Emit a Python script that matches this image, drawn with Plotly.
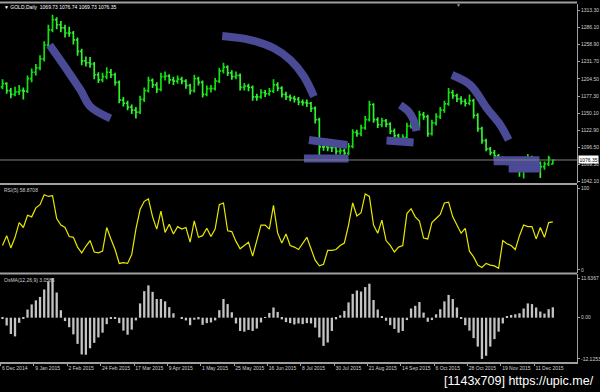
import plotly.graph_objects as go

# ---------------- data (2-day bars) ----------------
date_labels = ["6 Dec 2014", "9 Jan 2015", "2 Feb 2015", "24 Feb 2015", "17 Mar 2015",
               "9 Apr 2015", "1 May 2015", "25 May 2015", "16 Jun 2015", "8 Jul 2015",
               "30 Jul 2015", "21 Aug 2015", "14 Sep 2015", "6 Oct 2015", "28 Oct 2015",
               "19 Nov 2015", "11 Dec 2015"]

price_open = [1192, 1197, 1186, 1180, 1184, 1186, 1185, 1205, 1215, 1222,
              1236, 1258, 1282, 1298, 1290, 1285, 1277, 1277, 1266, 1248,
              1233, 1230, 1228, 1211, 1203, 1208, 1215, 1211, 1199, 1171,
              1166, 1160, 1155, 1152, 1172, 1186, 1202, 1195, 1188, 1208,
              1209, 1203, 1201, 1204, 1201, 1194, 1186, 1205, 1199, 1180,
              1189, 1189, 1201, 1217, 1223, 1214, 1208, 1210, 1191, 1193,
              1191, 1176, 1176, 1183, 1181, 1185, 1195, 1190, 1180, 1176,
              1174, 1172, 1168, 1167, 1166, 1158, 1140, 1097, 1097, 1096,
              1096, 1090, 1091, 1087, 1098, 1120, 1118, 1127, 1140, 1164,
              1140, 1132, 1138, 1133, 1122, 1115, 1109, 1112, 1130, 1135,
              1129, 1148, 1145, 1118, 1135, 1145, 1155, 1165, 1183, 1178,
              1173, 1169, 1166, 1170, 1147, 1126, 1107, 1094, 1088, 1083,
              1076, 1075, 1074, 1073, 1068, 1062, 1065, 1078, 1074, 1071,
              1066, 1070, 1069.73]
price_high = [1204, 1199, 1190, 1192, 1195, 1191, 1210, 1221, 1228, 1242,
              1264, 1290, 1306, 1302, 1296, 1290, 1287, 1280, 1270, 1252,
              1240, 1239, 1231, 1215, 1214, 1223, 1220, 1214, 1202, 1176,
              1170, 1164, 1160, 1178, 1191, 1208, 1205, 1199, 1214, 1216,
              1212, 1208, 1210, 1208, 1204, 1197, 1211, 1208, 1202, 1194,
              1195, 1206, 1222, 1230, 1226, 1218, 1216, 1213, 1198, 1197,
              1194, 1181, 1188, 1187, 1190, 1204, 1199, 1193, 1184, 1180,
              1178, 1176, 1172, 1172, 1168, 1161, 1143, 1104, 1102, 1101,
              1098, 1097, 1094, 1103, 1125, 1124, 1132, 1146, 1170, 1166,
              1144, 1143, 1141, 1136, 1126, 1118, 1117, 1135, 1140, 1138,
              1154, 1152, 1148, 1140, 1150, 1160, 1170, 1190, 1187, 1181,
              1177, 1173, 1180, 1173, 1150, 1129, 1110, 1097, 1092, 1086,
              1082, 1080, 1079, 1076, 1071, 1070, 1086, 1083, 1078, 1074,
              1074, 1083, 1076.74]
price_low = [1188, 1181, 1174, 1177, 1179, 1172, 1182, 1199, 1210, 1218,
             1232, 1254, 1278, 1283, 1278, 1270, 1271, 1259, 1241, 1226,
             1224, 1222, 1204, 1198, 1199, 1204, 1206, 1194, 1166, 1161,
             1155, 1149, 1142, 1149, 1168, 1183, 1190, 1182, 1185, 1202,
             1197, 1195, 1197, 1196, 1189, 1180, 1183, 1194, 1175, 1177,
             1183, 1186, 1198, 1213, 1209, 1203, 1204, 1186, 1186, 1185,
             1170, 1170, 1173, 1176, 1178, 1182, 1185, 1175, 1171, 1169,
             1167, 1163, 1162, 1160, 1152, 1134, 1077, 1091, 1090, 1089,
             1085, 1085, 1082, 1084, 1095, 1113, 1114, 1124, 1137, 1135,
             1127, 1128, 1128, 1117, 1110, 1104, 1105, 1109, 1126, 1124,
             1126, 1140, 1113, 1115, 1131, 1141, 1151, 1162, 1173, 1168,
             1164, 1161, 1163, 1142, 1121, 1102, 1090, 1084, 1078, 1071,
             1070, 1068, 1067, 1062, 1050, 1047, 1062, 1069, 1064, 1048,
             1061, 1067, 1069.73]
price_close = [1197, 1186, 1180, 1184, 1186, 1185, 1205, 1215, 1222, 1236,
               1258, 1282, 1298, 1290, 1285, 1277, 1277, 1266, 1248, 1233,
               1230, 1228, 1211, 1203, 1208, 1215, 1211, 1199, 1171, 1166,
               1160, 1155, 1152, 1172, 1186, 1202, 1195, 1188, 1208, 1209,
               1203, 1201, 1204, 1201, 1194, 1186, 1205, 1199, 1180, 1189,
               1189, 1201, 1217, 1223, 1214, 1208, 1210, 1191, 1193, 1191,
               1176, 1176, 1183, 1181, 1185, 1195, 1190, 1180, 1176, 1174,
               1172, 1168, 1167, 1166, 1158, 1140, 1097, 1097, 1096, 1096,
               1090, 1091, 1087, 1098, 1120, 1118, 1127, 1140, 1164, 1140,
               1132, 1138, 1133, 1122, 1115, 1109, 1112, 1130, 1135, 1129,
               1148, 1145, 1118, 1135, 1145, 1155, 1165, 1183, 1178, 1173,
               1169, 1166, 1170, 1147, 1126, 1107, 1094, 1088, 1083, 1076,
               1075, 1074, 1073, 1068, 1062, 1065, 1078, 1074, 1071, 1066,
               1070, 1079, 1076.35]

rsi_values = [30, 42, 27, 40, 58, 52, 67, 65, 76, 80,
              92, 90, 91, 63, 55, 52, 41, 40, 28, 21,
              29, 36, 22, 21, 23, 52, 38, 25, 8, 9,
              8, 19, 50, 74, 84, 87, 65, 50, 72, 46,
              56, 44, 53, 50, 52, 34, 60, 40, 42, 51,
              41, 50, 80, 82, 48, 47, 35, 26, 30, 34,
              17, 36, 55, 55, 50, 79, 45, 33, 44, 30,
              28, 25, 33, 40, 26, 12, 5, 7, 24, 24,
              25, 30, 33, 55, 82, 66, 70, 93, 90, 55,
              45, 61, 36, 30, 22, 28, 30, 69, 75, 65,
              60, 39, 38, 58, 63, 68, 82, 83, 65, 55,
              45, 51, 23, 16, 6, 3, 8, 6, 5, 2,
              36, 32, 30, 25, 42, 55, 53, 53, 38, 52,
              40, 58, 58.8708]

osma_values = [-0.1, -2.3, -4.8, -5.5, -1.5, -0.3, 2.4, 3.9, 5.1, 6.1,
               8.3, 10.6, 11.6367, 7.4, 2.2, -1.0, -2.8, -4.9, -7.7, -10.8,
               -10.9, -9.0, -7.4, -5.8, -4.4, -1.9, -0.1, -0.3, -1.6, -3.8,
               -5.0, -3.5, -0.8, 4.2, 7.8, 9.5, 7.6, 5.5, 5.5, 4.8,
               3.1, 1.3, 0.0, -0.4, -0.8, -2.2, -0.6, -0.5, -2.1, -1.6,
               -1.4, -0.8, 2.2, 5.5, 4.0, 1.6, -1.7, -3.9, -4.1, -3.6,
               -3.9, -3.2, -1.4, 0.1, 1.4, 3.0, 1.7, -0.5, -1.3, -1.6,
               -2.0, -1.7, -1.9, -1.6, -1.7, -2.9, -5.8, -8.3, -7.3, -3.9,
               -0.5, 0.7, 2.0, 4.5, 7.0, 8.0, 7.7, 9.0, 10.0, 5.2,
               2.4, 0.3, -0.9, -2.2, -3.3, -4.4, -3.9, -0.7, 2.7, 3.5,
               4.6, 1.5, -1.2, -0.7, 1.0, 2.5, 4.8, 6.7, 5.5, 3.0,
               -0.1, -2.2, -3.8, -6.0, -8.5, -12.1253, -11.2, -8.5, -6.3, -4.1,
               -1.7, 0.3, 0.8, 1.0, 1.3, 2.7, 4.2, 4.0, 3.0, 1.8,
               1.2, 2.5, 3.0585]

price_ticks = [1313.30, 1286.10, 1258.90, 1231.70, 1204.50, 1177.30,
               1150.10, 1122.90, 1096.50, 1069.30, 1042.10]
rsi_ticks = [100, 0]
osma_ticks = [11.6367, 0.0, -12.1253]
osma_tick_text = ["11.6367", "0.00", "-12.1253"]

# hand-drawn marker strokes on the price window (bar index, price)
stroke_a_x = [11.3, 15.5, 18.7, 21.1, 25.9]
stroke_a_y = [1258, 1218.5, 1187, 1160.5, 1142.2]
stroke_b_x = [52.7, 59.5, 65.1, 69.1, 72.3, 74.7]
stroke_b_y = [1272.2, 1265.9, 1252.8, 1234.1, 1208.3, 1176.7]
band_c1_x = [73.5, 82.7]
band_c1_y = [1107.9, 1100.0]
band_c2_x = [72.3, 83.0]
band_c2_y = [1078.7, 1078.7]
band_d_x = [92.1, 98.6]
band_d_y = [1107.0, 1104.0]
stroke_e_x = [95.4, 97.4, 98.6, 99.3]
stroke_e_y = [1163.2, 1152.6, 1139.5, 1122.1]
stroke_f_x = [107.8, 112.2, 116.2, 119.4, 121.4]
stroke_f_y = [1210.6, 1194.8, 1158.0, 1131.6, 1107.9]
band_g1_x = [117.8, 128.8]
band_g1_y = [1075.2, 1075.2]
band_g2_x = [121.4, 129.0]
band_g2_y = [1063.7, 1063.7]

# ---------------- figure ----------------
idx = list(range(len(price_close)))
H = 392.0
GRID = "#a0a0a0"
TXT = "#d0d0d0"
FONT = "Liberation Sans"
MARK = "rgb(74,74,150)"


def py(px):
    return 1 - px / H


fig = go.Figure()

strokes = [(stroke_a_x, stroke_a_y, 8), (stroke_b_x, stroke_b_y, 8),
           (band_c1_x, band_c1_y, 8), (band_c2_x, band_c2_y, 8),
           (band_d_x, band_d_y, 8), (stroke_e_x, stroke_e_y, 8),
           (stroke_f_x, stroke_f_y, 8), (band_g1_x, band_g1_y, 9),
           (band_g2_x, band_g2_y, 9)]
for sx, sy, w in strokes:
    fig.add_trace(go.Scatter(x=sx, y=sy, mode="lines", line=dict(color=MARK, width=w, shape="spline"),
                             xaxis="x", yaxis="y", hoverinfo="skip"))

fig.add_trace(go.Ohlc(
    x=idx, open=price_open, high=price_high, low=price_low, close=price_close,
    increasing=dict(line=dict(color="#10e010", width=1.7)),
    decreasing=dict(line=dict(color="#30f030", width=1.7)),
    tickwidth=0.4, xaxis="x", yaxis="y"))

fig.add_trace(go.Scatter(x=idx, y=rsi_values, mode="lines",
                         line=dict(color="#e8e800", width=1.2), xaxis="x2", yaxis="y2"))

fig.add_trace(go.Bar(x=idx, y=osma_values, marker=dict(color="#c4c4c4", line=dict(width=0)),
                     xaxis="x3", yaxis="y3"))

xr = [-0.6, 137.8]
base_x = dict(range=xr, showgrid=False, zeroline=False, showticklabels=False, fixedrange=True)
yax = dict(side="right", showgrid=False, zeroline=False, ticks="outside", ticklen=2,
           tickcolor=GRID, tickfont=dict(size=5, color=TXT, family=FONT),
           showline=True, linecolor=GRID, linewidth=1, fixedrange=True)

fig.update_layout(
    width=600, height=392, margin=dict(l=0, r=23, t=0, b=0),
    paper_bgcolor="black", plot_bgcolor="black", showlegend=False,
    bargap=0.45,
    xaxis=dict(base_x, anchor="y", rangeslider=dict(visible=False)),
    xaxis2=dict(base_x, anchor="y2", matches="x"),
    xaxis3=dict(base_x, anchor="y3", matches="x", showticklabels=True,
                tickvals=[8 * k - 0.45 for k in range(len(date_labels))], ticktext=date_labels,
                ticks="outside", ticklen=2, tickcolor=GRID, ticklabelposition="outside right",
                tickangle=0, tickfont=dict(size=5, color=TXT, family=FONT),
                showline=True, linecolor=GRID, linewidth=1.5),
    yaxis=dict(yax, domain=[py(183), py(4)], range=[1040.0, 1322.8], anchor="x",
               tickvals=price_ticks, ticktext=[f"{v:.2f}" for v in price_ticks]),
    yaxis2=dict(yax, domain=[py(273), py(185)], range=[-3.7, 104], anchor="x2",
                tickvals=rsi_ticks, ticktext=[str(v) for v in rsi_ticks]),
    yaxis3=dict(yax, domain=[py(362), py(274)], range=[-13.03, 12.85], anchor="x3",
                tickvals=osma_ticks, ticktext=osma_tick_text),
)

shapes = []
for ypx in (2.5, 184, 273.5):
    shapes.append(dict(type="line", xref="paper", yref="paper", x0=0, x1=1, y0=py(ypx), y1=py(ypx),
                       line=dict(color=GRID, width=2)))
shapes.append(dict(type="line", xref="paper", yref="y", x0=0, x1=1,
                   y0=price_close[-1], y1=price_close[-1], line=dict(color="#808080", width=1)))
fig.update_layout(shapes=shapes)

header = "\u25bc GOLD,Daily  {:.2f} {:.2f} {:.2f} {:.2f}".format(
    price_open[-1], price_high[-1], price_low[-1], price_close[-1])
ann = [
    dict(text=header, xref="paper", yref="paper", x=0, y=py(7), xanchor="left", yanchor="middle",
         xshift=2, showarrow=False, font=dict(size=5, color="white", family=FONT)),
    dict(text=f"RSI(5) {rsi_values[-1]:.4f}", xref="paper", yref="paper", x=0, y=py(189.5),
         xanchor="left", yanchor="middle", xshift=2, showarrow=False,
         font=dict(size=5, color=TXT, family=FONT)),
    dict(text=f"OsMA(12,26,9) {osma_values[-1]:.4f}", xref="paper", yref="paper", x=0, y=py(279.5),
         xanchor="left", yanchor="middle", xshift=2, showarrow=False,
         font=dict(size=5, color=TXT, family=FONT)),
    dict(text=f"{price_close[-1]:.2f}", xref="paper", yref="y", x=1, y=price_close[-1],
         xanchor="left", yanchor="middle", xshift=1, showarrow=False, bgcolor="white", borderpad=0.5,
         font=dict(size=5, color="black", family=FONT)),
    dict(text="\u25bc", xref="paper", yref="paper", x=459 / 577, y=py(4.5), xanchor="center",
         yanchor="middle", showarrow=False, font=dict(size=5, color="#9a9a9a", family=FONT)),
    dict(text="[1143x709] https://upic.me/", xref="paper", yref="paper", x=1, y=py(381),
         xanchor="right", yanchor="middle", xshift=19, showarrow=False,
         font=dict(size=12.5, color="white", family=FONT)),
]
fig.update_layout(annotations=ann)

fig.write_html("out.html")
